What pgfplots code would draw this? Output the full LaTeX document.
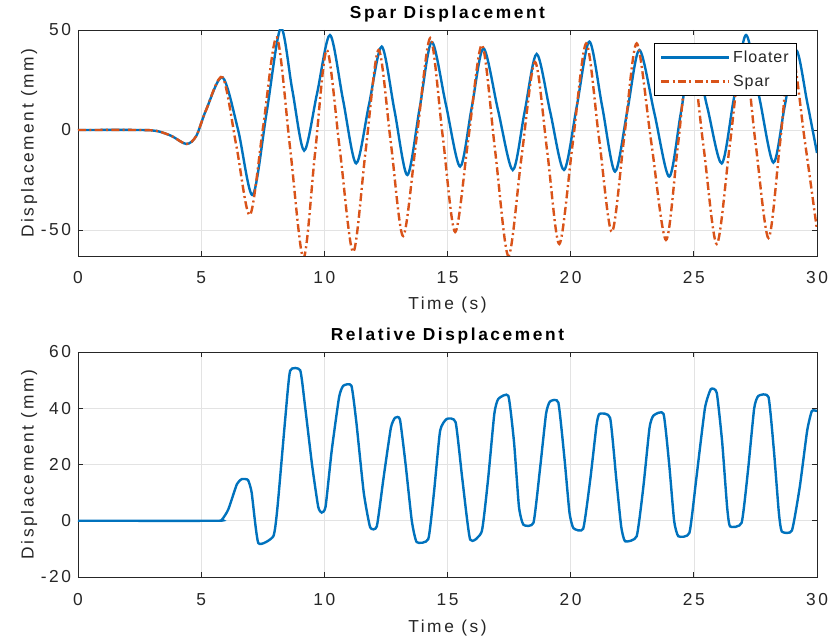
\documentclass[border=0pt]{standalone}
\usepackage{fontspec}
\setmainfont{Liberation Sans}[LetterSpace=15]
\usepackage{pgfplots}
\pgfplotsset{compat=1.18}

\definecolor{mblue}{rgb}{0,0.447,0.741}
\definecolor{morange}{rgb}{0.85,0.325,0.098}
\definecolor{maxis}{rgb}{0.15,0.15,0.15}

\pgfplotsset{
  mstyle/.style={
    scale only axis,
    width=554.25pt,
    xmin=0, xmax=30,
    xtick={0,5,...,30},
    grid=major,
    grid style={line width=0.4pt, draw=gray!22},
    axis line style={line width=0.7pt, draw=maxis},
    tick style={line width=0.6pt, draw=maxis},
    tick align=inside,
    major tick length=4pt,
    /pgf/number format/assume math mode=true,
    tick label style={font=\fontsize{13}{15}\selectfont, text=maxis},
    label style={font=\fontsize{13}{15}\selectfont, text=maxis},
    title style={font=\fontsize{13}{15}\selectfont\bfseries, text=black,
      at={(axis description cs:0.5,1)}, anchor=center, yshift=6pt},
    yticklabel style={anchor=east, xshift=-1.7pt},
    ylabel style={at={(axis description cs:-0.066,0.5)}, anchor=center},
    xlabel={Time (s)},
    ylabel={Displacement (mm)},
  }
}

\begin{document}
\begin{tikzpicture}
\path[use as bounding box] (-58.5pt,22.5pt) rectangle (564pt,-456pt);

\begin{axis}[mstyle,
  name=top, at={(0pt,0pt)}, anchor=north west,
  height=169.5pt,
  ymin=-63, ymax=50,
  ytick={-50,0,50},
  title={Spar Displacement},
  xticklabel style={anchor=center, yshift=-16pt},
  xlabel style={at={(axis description cs:0.5,0)}, anchor=center, yshift=-37pt},
  legend style={at={(rel axis cs:0.973,0.9425)}, anchor=north east,
    draw=black, fill=white, line width=0.6pt,
    font=\fontsize{12}{14}\selectfont\addfontfeatures{LetterSpace=6},
    text=maxis, inner xsep=4pt, inner ysep=3.5pt, row sep=4pt},
  legend cell align=left,
  legend image code/.code={\draw[#1] (0pt,0pt) -- (51pt,0pt);},
]
\addplot[mblue, line width=1.8pt, smooth] coordinates {
(0,0) (2.5,0) (3.2,-0.5) (3.8,-3) (4.4,-7) (4.8,-3) (5.2,10) (5.87,26.3)
(6.5,0) (7.09,-32.5) (7.66,9) (8.23,51) (8.7,20) (9.18,-10.3) (9.7,18)
(10.23,47.5) (10.76,15) (11.29,-16.7) (11.81,12.5) (12.33,41.7) (12.85,9.6)
(13.37,-22.5) (13.87,11) (14.36,44) (14.93,13) (15.51,-18.3) (15.98,11)
(16.46,40.8) (17.05,10) (17.65,-20) (18.13,9) (18.62,38) (19.17,9)
(19.73,-20) (20.25,12) (20.76,44.2) (21.28,11.7) (21.8,-20.8) (22.3,9.6)
(22.79,40) (23.4,8.3) (24.0,-23.3) (24.47,8.3) (24.95,40) (25.54,11.7)
(26.13,-16.7) (26.62,15.4) (27.12,47.5) (27.67,15.6) (28.23,-16.3)
(28.69,12) (29.15,40) (29.6,14) (30,-11.5)
};
\addlegendentry{Floater}
\addplot[morange, line width=1.8pt, smooth,
  dash pattern=on 6pt off 2.5pt on 1.5pt off 2.5pt] coordinates {
(0,0) (2.5,0) (3.2,-0.5) (3.8,-3) (4.4,-7) (4.8,-3) (5.2,10) (5.87,26.3)
(6.43,-8) (6.98,-42.5) (7.52,2) (8.07,46.3) (8.61,-9) (9.15,-64) (9.62,-12)
(10.1,40) (10.63,-10) (11.17,-61) (11.68,-10) (12.2,40) (12.7,-6.5)
(13.2,-53) (13.75,-3.5) (14.3,46) (14.8,-2.5) (15.31,-51) (15.85,-4)
(16.4,42.5) (16.93,-10) (17.47,-63) (18.0,-14) (18.55,34) (19.05,-11)
(19.54,-57) (20.08,-7) (20.63,43.3) (21.15,-4) (21.67,-51) (22.17,-4)
(22.68,43.3) (23.27,-6) (23.87,-55) (24.36,-7) (24.85,41) (25.39,-8)
(25.93,-57) (26.46,-7.5) (27.0,42) (27.5,-6) (28.03,-54) (28.5,-6.5)
(28.95,41) (29.5,-5) (30,-50)
};
\addlegendentry{Spar}
\end{axis}

\begin{axis}[mstyle,
  name=bottom, at={(0pt,-241.5pt)}, anchor=north west,
  height=168.75pt,
  ymin=-20, ymax=60,
  ytick={-20,0,...,60},
  title={Relative Displacement},
  xticklabel style={anchor=center, yshift=-17.25pt},
  xlabel style={at={(axis description cs:0.5,0)}, anchor=center, yshift=-38.5pt},
]
\addplot[mblue, line width=1.8pt, smooth, tension=0.3] coordinates {
(0,0) (5.6,0) (5.85,0.5) (6.1,4) (6.45,13) (6.65,14.8) (6.9,14.5) (7.05,10) (7.32,-7.9)
(7.93,-5.5) (8.1,5) (8.4,35) (8.61,53.3) (9.02,53.5) (9.2,42) (9.5,20)
(9.75,5) (9.89,2.9) (10.05,5) (10.3,25) (10.6,44) (10.77,48) (11.1,48)
(11.3,35) (11.6,10) (11.86,-2.3) (12.13,-2) (12.4,15) (12.7,33) (12.87,36.6)
(13.07,36) (13.3,20) (13.55,0) (13.75,-7.6) (14.22,-6.5) (14.45,10)
(14.7,32) (14.97,36.2) (15.33,35) (15.6,15) (15.92,-6.7) (16.39,-3.8)
(16.65,15) (16.9,38) (17.06,43.3) (17.47,44.4) (17.7,28) (17.9,5)
(18.08,-1.4) (18.49,-0.7) (18.75,18) (19.0,38) (19.16,42.4) (19.5,42)
(19.75,22) (19.95,3) (20.11,-2.6) (20.51,-2.8) (20.8,15) (21.05,34)
(21.17,38) (21.6,36.6) (21.85,15) (22.05,-2) (22.21,-7.3) (22.68,-5.5)
(22.95,12) (23.2,33) (23.36,37.4) (23.77,38) (24.0,20) (24.2,0)
(24.37,-5.5) (24.82,-4.3) (25.1,15) (25.45,40) (25.69,46.8) (25.93,45.5)
(26.15,28) (26.35,5) (26.47,-2) (26.94,-0.7) (27.2,18) (27.45,40)
(27.62,44.4) (28.03,44) (28.25,25) (28.45,3) (28.57,-3.8) (28.98,-3.5)
(29.3,12) (29.6,32) (29.79,39) (30,39)
};
\end{axis}
\end{tikzpicture}
\end{document}
